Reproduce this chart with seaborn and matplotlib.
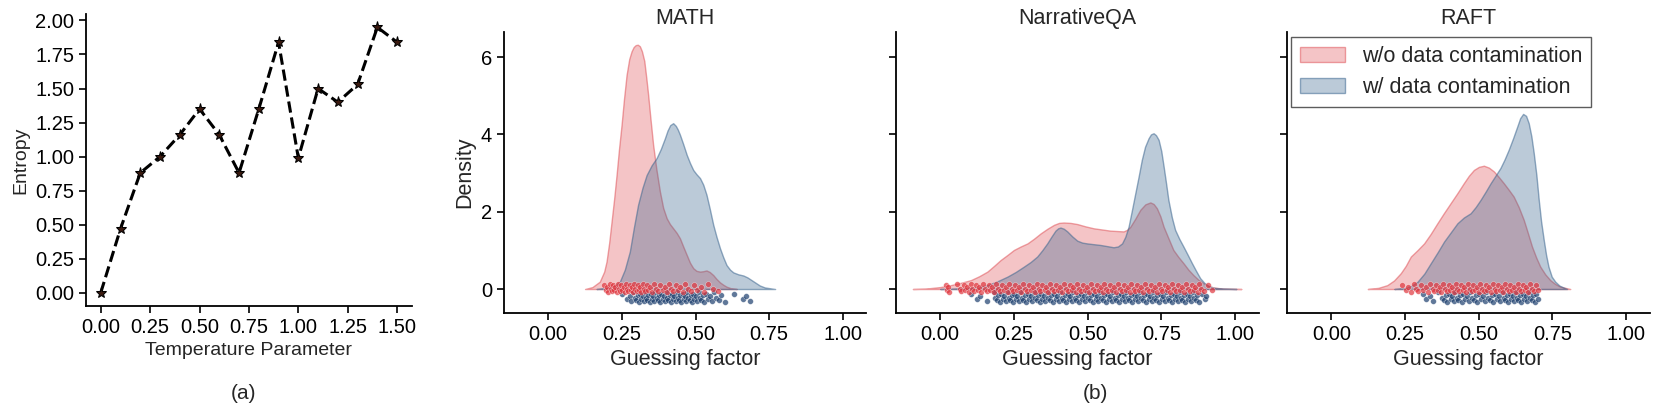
import numpy as np
import pandas as pd
import seaborn as sns
import matplotlib.pyplot as plt
from matplotlib.patches import Patch

# (a) entropy vs temperature
temperature = [0.0, 0.1, 0.2, 0.3, 0.4, 0.5, 0.6, 0.7, 0.8, 0.9, 1.0, 1.1, 1.2, 1.3, 1.4, 1.5]
entropy = [0.00, 0.47, 0.88, 1.00, 1.16, 1.35, 1.16, 0.88, 1.35, 1.84, 0.99, 1.50, 1.40, 1.53, 1.95, 1.84]

# (b) density curves (x, density)
math_red_x = [0.125, 0.150, 0.175, 0.190, 0.198, 0.207, 0.215, 0.224, 0.232, 0.240, 0.249, 0.257, 0.266, 0.275,
              0.283, 0.290, 0.297, 0.304, 0.311, 0.318, 0.326, 0.333, 0.339, 0.347, 0.356, 0.367, 0.379, 0.390,
              0.402, 0.413, 0.424, 0.436, 0.447, 0.458, 0.470, 0.481, 0.492, 0.503, 0.515, 0.526, 0.537, 0.548,
              0.560, 0.571, 0.583, 0.594, 0.605, 0.620, 0.640]
math_red_y = [0, 0.05, 0.19, 0.45, 0.71, 1.2, 1.74, 2.35, 2.95, 3.6, 4.25, 4.9, 5.54, 5.95,
              6.15, 6.26, 6.31, 6.32, 6.28, 6.15, 5.9, 5.45, 5.03, 4.4, 3.73, 3.1, 2.52, 2.1,
              1.83, 1.68, 1.57, 1.45, 1.31, 1.1, 0.88, 0.68, 0.54, 0.47, 0.45, 0.46, 0.48, 0.44,
              0.36, 0.26, 0.17, 0.11, 0.06, 0.02, 0]
math_blue_x = [0.164, 0.200, 0.225, 0.243, 0.260, 0.277, 0.291, 0.305, 0.320, 0.334, 0.351, 0.368, 0.382, 0.396,
               0.405, 0.414, 0.424, 0.433, 0.440, 0.447, 0.458, 0.470, 0.481, 0.492, 0.503, 0.515, 0.526, 0.537,
               0.548, 0.560, 0.571, 0.583, 0.594, 0.605, 0.617, 0.628, 0.645, 0.662, 0.676, 0.690, 0.704, 0.718,
               0.735, 0.770]
math_blue_y = [0, 0.03, 0.08, 0.19, 0.5, 0.97, 1.6, 2.18, 2.62, 2.95, 3.2, 3.39, 3.62, 3.9,
               4.1, 4.24, 4.29, 4.22, 4.12, 3.99, 3.75, 3.47, 3.26, 3.08, 2.97, 2.87, 2.7, 2.44,
               2.08, 1.66, 1.35, 1.05, 0.82, 0.62, 0.5, 0.43, 0.38, 0.35, 0.3, 0.23, 0.16, 0.09,
               0.04, 0]

nqa_red_x = [-0.093, -0.050, 0.000, 0.036, 0.070, 0.104, 0.132, 0.160, 0.183, 0.205, 0.228, 0.250, 0.273, 0.296,
             0.318, 0.341, 0.364, 0.386, 0.403, 0.419, 0.442, 0.465, 0.493, 0.521, 0.549, 0.577, 0.600, 0.622,
             0.634, 0.645, 0.662, 0.679, 0.696, 0.713, 0.724, 0.735, 0.747, 0.758, 0.775, 0.791, 0.808, 0.825,
             0.842, 0.859, 0.876, 0.893, 0.910, 0.927, 0.960, 1.022]
nqa_red_y = [0, 0.01, 0.05, 0.1, 0.16, 0.23, 0.33, 0.45, 0.6, 0.75, 0.88, 1.01, 1.1, 1.18,
             1.3, 1.44, 1.56, 1.66, 1.71, 1.72, 1.71, 1.68, 1.62, 1.57, 1.54, 1.51, 1.5, 1.49,
             1.53, 1.61, 1.82, 2.05, 2.19, 2.24, 2.2, 2.09, 1.88, 1.61, 1.3, 1.01, 0.83, 0.67,
             0.5, 0.36, 0.24, 0.15, 0.08, 0.04, 0.01, 0]
nqa_blue_x = [0.000, 0.050, 0.100, 0.130, 0.160, 0.194, 0.228, 0.256, 0.284, 0.307, 0.329, 0.346, 0.363, 0.377,
              0.391, 0.400, 0.408, 0.419, 0.431, 0.448, 0.465, 0.482, 0.498, 0.520, 0.543, 0.566, 0.588, 0.603,
              0.617, 0.628, 0.639, 0.650, 0.662, 0.673, 0.684, 0.695, 0.707, 0.715, 0.724, 0.732, 0.741, 0.750,
              0.758, 0.766, 0.774, 0.786, 0.797, 0.811, 0.825, 0.840, 0.854, 0.868, 0.882, 0.896, 0.910, 0.930,
              0.960, 1.005]
nqa_blue_y = [0, 0.01, 0.03, 0.05, 0.1, 0.2, 0.32, 0.44, 0.58, 0.7, 0.84, 1.0, 1.18, 1.35,
              1.51, 1.57, 1.59, 1.56, 1.49, 1.36, 1.25, 1.2, 1.18, 1.16, 1.14, 1.11, 1.08, 1.1,
              1.18, 1.35, 1.61, 2.02, 2.48, 2.9, 3.34, 3.68, 3.9, 4.0, 4.03, 3.98, 3.86, 3.57,
              3.17, 2.75, 2.31, 1.85, 1.53, 1.3, 1.1, 0.88, 0.67, 0.47, 0.28, 0.16, 0.08, 0.03,
              0.01, 0]

raft_red_x = [0.124, 0.160, 0.190, 0.213, 0.236, 0.253, 0.270, 0.292, 0.315, 0.337, 0.360, 0.382, 0.405, 0.428,
              0.450, 0.467, 0.484, 0.501, 0.518, 0.535, 0.552, 0.568, 0.585, 0.602, 0.619, 0.636, 0.653, 0.667,
              0.681, 0.695, 0.709, 0.726, 0.743, 0.760, 0.777, 0.811]
raft_red_y = [0, 0.03, 0.1, 0.22, 0.41, 0.6, 0.84, 1.0, 1.18, 1.42, 1.7, 1.96, 2.22, 2.48,
              2.74, 2.93, 3.08, 3.16, 3.19, 3.14, 3.04, 2.9, 2.74, 2.57, 2.39, 2.12, 1.79, 1.45,
              1.1, 0.82, 0.58, 0.38, 0.23, 0.13, 0.06, 0]
raft_blue_x = [0.214, 0.250, 0.272, 0.293, 0.316, 0.338, 0.361, 0.383, 0.406, 0.428, 0.450, 0.473, 0.490, 0.507,
               0.524, 0.541, 0.558, 0.574, 0.588, 0.602, 0.617, 0.631, 0.641, 0.651, 0.661, 0.670, 0.679, 0.687,
               0.696, 0.704, 0.712, 0.721, 0.729, 0.737, 0.748, 0.760, 0.774, 0.788, 0.800]
raft_blue_y = [0, 0.03, 0.08, 0.19, 0.4, 0.67, 0.95, 1.23, 1.47, 1.7, 1.85, 1.96, 2.12, 2.31,
               2.52, 2.74, 2.94, 3.13, 3.35, 3.6, 3.9, 4.2, 4.42, 4.53, 4.48, 4.29, 3.95, 3.52,
               2.95, 2.31, 1.75, 1.27, 0.88, 0.58, 0.32, 0.19, 0.09, 0.04, 0]

# guessing factor of individual samples (strip under each curve)
math_red_pts = [0.190, 0.196, 0.200, 0.204, 0.208, 0.212, 0.216, 0.220, 0.224, 0.228, 0.232, 0.236, 0.240, 0.244,
                0.248, 0.252, 0.256, 0.260, 0.264, 0.268, 0.272, 0.276, 0.280, 0.284, 0.288, 0.292, 0.296, 0.300,
                0.304, 0.308, 0.312, 0.316, 0.320, 0.325, 0.330, 0.335, 0.340, 0.346, 0.352, 0.358, 0.365, 0.372,
                0.380, 0.388, 0.395, 0.402, 0.410, 0.418, 0.425, 0.432, 0.440, 0.448, 0.456, 0.465, 0.474, 0.484,
                0.495, 0.505, 0.518, 0.530, 0.542, 0.558, 0.575]
math_blue_pts = [0.252, 0.268, 0.276, 0.282, 0.288, 0.293, 0.298, 0.303, 0.308, 0.312, 0.316, 0.320, 0.324, 0.328,
                 0.332, 0.336, 0.340, 0.344, 0.348, 0.352, 0.356, 0.360, 0.364, 0.368, 0.372, 0.376, 0.380, 0.384,
                 0.388, 0.392, 0.396, 0.400, 0.404, 0.408, 0.412, 0.416, 0.420, 0.424, 0.428, 0.432, 0.436, 0.440,
                 0.444, 0.448, 0.452, 0.456, 0.460, 0.464, 0.468, 0.472, 0.476, 0.480, 0.484, 0.488, 0.492, 0.496,
                 0.500, 0.505, 0.510, 0.515, 0.520, 0.525, 0.530, 0.536, 0.542, 0.548, 0.555, 0.562, 0.570, 0.578,
                 0.588, 0.600, 0.630, 0.660, 0.672, 0.685]
nqa_red_pts = [0.020, 0.023, 0.026, 0.030, 0.058, 0.066, 0.072, 0.079, 0.085, 0.091, 0.097, 0.103, 0.109, 0.115,
               0.121, 0.127, 0.133, 0.139, 0.145, 0.151, 0.158, 0.164, 0.170, 0.177, 0.183, 0.190, 0.196, 0.203,
               0.209, 0.216, 0.222, 0.229, 0.235, 0.242, 0.248, 0.255, 0.262, 0.268, 0.275, 0.281, 0.288, 0.294,
               0.301, 0.308, 0.314, 0.321, 0.327, 0.334, 0.340, 0.347, 0.354, 0.360, 0.367, 0.373, 0.380, 0.386,
               0.393, 0.400, 0.406, 0.413, 0.419, 0.426, 0.432, 0.439, 0.446, 0.452, 0.459, 0.465, 0.472, 0.478,
               0.485, 0.492, 0.498, 0.505, 0.511, 0.518, 0.524, 0.531, 0.538, 0.544, 0.551, 0.557, 0.564, 0.570,
               0.577, 0.584, 0.590, 0.597, 0.603, 0.610, 0.616, 0.623, 0.630, 0.636, 0.643, 0.649, 0.656, 0.662,
               0.669, 0.676, 0.682, 0.689, 0.695, 0.702, 0.708, 0.715, 0.722, 0.728, 0.735, 0.741, 0.748, 0.754,
               0.761, 0.768, 0.774, 0.781, 0.787, 0.794, 0.800, 0.807, 0.814, 0.820, 0.827, 0.833, 0.840, 0.846,
               0.853, 0.860, 0.866, 0.873, 0.879, 0.886, 0.895, 0.910, 0.922]
nqa_blue_pts = [0.105, 0.125, 0.135, 0.160, 0.182, 0.187, 0.192, 0.197, 0.202, 0.207, 0.212, 0.217, 0.222, 0.227,
                0.232, 0.237, 0.242, 0.247, 0.252, 0.257, 0.262, 0.267, 0.272, 0.277, 0.282, 0.287, 0.292, 0.297,
                0.302, 0.307, 0.312, 0.317, 0.322, 0.327, 0.332, 0.337, 0.342, 0.347, 0.352, 0.357, 0.362, 0.367,
                0.372, 0.377, 0.382, 0.387, 0.392, 0.397, 0.402, 0.407, 0.412, 0.417, 0.422, 0.427, 0.432, 0.437,
                0.442, 0.447, 0.452, 0.457, 0.462, 0.467, 0.472, 0.477, 0.482, 0.487, 0.492, 0.497, 0.502, 0.507,
                0.512, 0.517, 0.522, 0.527, 0.532, 0.537, 0.542, 0.547, 0.552, 0.557, 0.562, 0.567, 0.572, 0.577,
                0.582, 0.587, 0.592, 0.597, 0.602, 0.607, 0.612, 0.617, 0.622, 0.627, 0.632, 0.637, 0.642, 0.647,
                0.652, 0.657, 0.662, 0.667, 0.672, 0.677, 0.682, 0.687, 0.692, 0.697, 0.702, 0.707, 0.712, 0.717,
                0.722, 0.727, 0.732, 0.737, 0.742, 0.747, 0.752, 0.757, 0.762, 0.767, 0.772, 0.777, 0.782, 0.787,
                0.792, 0.797, 0.802, 0.807, 0.812, 0.817, 0.822, 0.827, 0.832, 0.837, 0.842, 0.847, 0.852, 0.857,
                0.862, 0.867, 0.872, 0.877, 0.888, 0.897, 0.903]
raft_red_pts = [0.240, 0.255, 0.262, 0.270, 0.280, 0.288, 0.296, 0.304, 0.312, 0.320, 0.328, 0.336, 0.344, 0.350,
                0.356, 0.362, 0.368, 0.374, 0.380, 0.386, 0.392, 0.398, 0.404, 0.410, 0.416, 0.422, 0.428, 0.434,
                0.440, 0.446, 0.452, 0.458, 0.464, 0.470, 0.476, 0.482, 0.488, 0.494, 0.500, 0.506, 0.512, 0.518,
                0.524, 0.530, 0.536, 0.542, 0.548, 0.554, 0.560, 0.566, 0.572, 0.578, 0.584, 0.590, 0.596, 0.602,
                0.608, 0.614, 0.620, 0.626, 0.632, 0.638, 0.644, 0.650, 0.656, 0.662, 0.668, 0.674, 0.680, 0.688,
                0.695, 0.700]
raft_blue_pts = [0.310, 0.322, 0.335, 0.345, 0.362, 0.375, 0.382, 0.388, 0.394, 0.400, 0.405, 0.410, 0.415, 0.420,
                 0.425, 0.430, 0.436, 0.442, 0.448, 0.454, 0.460, 0.466, 0.472, 0.478, 0.484, 0.490, 0.496, 0.502,
                 0.508, 0.514, 0.520, 0.526, 0.532, 0.538, 0.544, 0.550, 0.556, 0.562, 0.568, 0.574, 0.580, 0.585,
                 0.590, 0.595, 0.600, 0.605, 0.610, 0.615, 0.620, 0.625, 0.630, 0.635, 0.640, 0.645, 0.650, 0.655,
                 0.660, 0.665, 0.670, 0.675, 0.680, 0.685, 0.690, 0.695, 0.700]

datasets = ['MATH', 'NarrativeQA', 'RAFT']
labels = ['w/o data contamination', 'w/ data contamination']

curves = {
    'MATH': [(math_red_x, math_red_y), (math_blue_x, math_blue_y)],
    'NarrativeQA': [(nqa_red_x, nqa_red_y), (nqa_blue_x, nqa_blue_y)],
    'RAFT': [(raft_red_x, raft_red_y), (raft_blue_x, raft_blue_y)],
}
points = {
    'MATH': [math_red_pts, math_blue_pts],
    'NarrativeQA': [nqa_red_pts, nqa_blue_pts],
    'RAFT': [raft_red_pts, raft_blue_pts],
}

# styling
fill_cols = ['#e0565c', '#3d6790']
pt_cols = ['#e0363e', '#1d3f6e']
jitter = [[0.10, -0.03, 0.05, -0.08, 0.12, 0.00, -0.06],
          [-0.12, -0.26, -0.18, -0.31, -0.09, -0.22, -0.29, -0.15, -0.33]]

sns.set_style('ticks')
plt.rcParams['font.family'] = ['Liberation Sans', 'DejaVu Sans']
plt.rcParams['axes.edgecolor'] = 'black'
plt.rcParams['xtick.color'] = 'black'
plt.rcParams['ytick.color'] = 'black'
plt.rcParams['axes.linewidth'] = 1.3

fig = plt.figure(figsize=(16.59, 4.07), dpi=100)

# ---- (a)
ax0 = fig.add_axes([0.0518, 0.2482, 0.1965, 0.7174])
df_a = pd.DataFrame({'Temperature Parameter': temperature, 'Entropy': entropy})
sns.lineplot(data=df_a, x='Temperature Parameter', y='Entropy', ax=ax0, color='black',
             linestyle='--', lw=2.2, marker='*', markersize=8, markeredgecolor='black',
             markerfacecolor='#3a1a10')
ax0.set_xticks([0, 0.25, 0.5, 0.75, 1.0, 1.25, 1.5])
ax0.set_yticks([0, 0.25, 0.5, 0.75, 1.0, 1.25, 1.5, 1.75, 2.0])
ax0.tick_params(labelsize=14.5, length=5, width=1.2)
ax0.set_xlabel('Temperature Parameter', fontsize=14)
ax0.set_ylabel('Entropy', fontsize=14)
sns.despine(ax=ax0)

# ---- (b)
lefts = [0.3038, 0.5401, 0.7758]
axes = []
for i, name in enumerate(datasets):
    ax = fig.add_axes([lefts[i], 0.2310, 0.2185, 0.6904])
    axes.append(ax)
    for j in range(2):
        cx, cy = curves[name][j]
        r, g, b = plt.matplotlib.colors.to_rgb(fill_cols[j])
        ax.fill_between(cx, cy, 0, facecolor=(r, g, b, 0.35), edgecolor=(r, g, b, 0.55), lw=1.0,
                        zorder=2 + j)
    for j in range(2):
        px = points[name][j]
        py = np.resize(jitter[j], len(px))
        sns.scatterplot(x=px, y=py, ax=ax, color=pt_cols[j], s=17, alpha=0.7,
                        edgecolor='white', linewidth=0.3, zorder=5 - j, legend=False)
    ax.set_xlim(-0.15, 1.08)
    ax.set_ylim(-0.62, 6.65)
    ax.set_xticks([0, 0.25, 0.5, 0.75, 1.0])
    ax.set_yticks([0, 2, 4, 6])
    ax.set_title(name, fontsize=15.5)
    ax.set_xlabel('Guessing factor', fontsize=15.5)
    ax.tick_params(labelsize=14.5, length=5, width=1.2)
    if i == 0:
        ax.set_ylabel('Density', fontsize=15.5)
    else:
        ax.set_ylabel('')
        ax.tick_params(labelleft=False)
    sns.despine(ax=ax)

handles = [Patch(facecolor=plt.matplotlib.colors.to_rgba(c, 0.35),
                 edgecolor=plt.matplotlib.colors.to_rgba(c, 0.55), lw=1.0) for c in fill_cols]
leg = axes[2].legend(handles, labels, loc='upper left', bbox_to_anchor=(0.011, 0.982),
                     borderaxespad=0, fontsize=15.5, fancybox=False, framealpha=0.8,
                     edgecolor='#333333', handlelength=2.1)
leg.get_frame().set_linewidth(1.0)

fig.text(0.1465, 0.034, '(a)', ha='center', va='center', fontsize=15)
fig.text(0.660, 0.034, '(b)', ha='center', va='center', fontsize=15)

fig.savefig('out.png', dpi=100)
